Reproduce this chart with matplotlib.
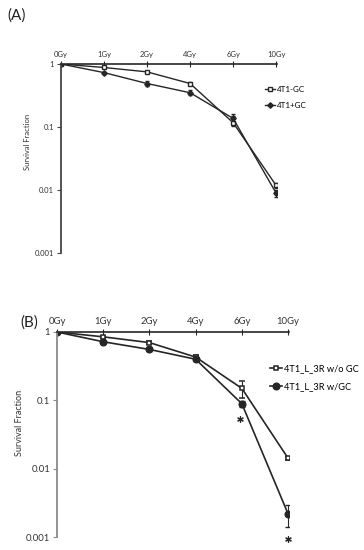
import matplotlib
matplotlib.use("Agg")
import matplotlib.pyplot as plt
from matplotlib.lines import Line2D
import numpy as np

plt.rcParams['font.family'] = ['Lato', 'DejaVu Sans']

doses = ["0Gy", "1Gy", "2Gy", "4Gy", "6Gy", "10Gy"]
yticks = [1, 0.1, 0.01, 0.001]
ytick_labels = ["1", "0.1", "0.01", "0.001"]

# Panel A
a_minus = [1.0, 0.88, 0.75, 0.49, 0.117, 0.0118]
a_minus_err_lo = [0.0, 0.03, 0.03, 0.02, 0.015, 0.001]
a_minus_err_hi = [0.0, 0.03, 0.03, 0.02, 0.045, 0.001]
a_plus = [1.0, 0.73, 0.49, 0.35, 0.137, 0.0089]
a_plus_err = [0.0, 0.03, 0.05, 0.03, 0.012, 0.0012]
a_labels = ["4T1-GC", "4T1+GC"]

# Panel B
b_wo = [1.0, 0.85, 0.70, 0.43, 0.15, 0.0143]
b_wo_err = [0.0, 0.03, 0.03, 0.03, 0.04, 0.0007]
b_w = [1.0, 0.72, 0.556, 0.40, 0.0895, 0.0022]
b_w_err = [0.0, 0.03, 0.03, 0.02, 0.008, 0.0008]
b_labels = ["4T1_L_3R w/o GC", "4T1_L_3R w/GC"]
sig_x = [4, 5]
sig_y = [0.054, 0.00094]

LC = "#262626"
fig = plt.figure(figsize=(3.64, 5.5), dpi=100)

def setup(ax, fs, spine_color):
    x = np.arange(len(doses))
    ax.set_yscale('log')
    ax.set_ylim(0.001, 1)
    ax.set_xlim(0, len(doses) - 1 + 0.02)
    ax.xaxis.tick_top()
    ax.set_xticks(x)
    ax.set_xticklabels(doses, fontsize=fs, color="#333333")
    ax.set_yticks(yticks)
    ax.set_yticklabels(ytick_labels, fontsize=fs, color="#333333")
    ax.yaxis.set_minor_locator(matplotlib.ticker.NullLocator())
    ax.tick_params(axis='x', direction='inout', length=4, width=0.8, pad=2, color=LC)
    ax.tick_params(axis='y', direction='out', length=3, width=0.8, pad=2, color=spine_color)
    for s in ['bottom', 'right']:
        ax.spines[s].set_visible(False)
    ax.spines['top'].set_color(LC)
    ax.spines['top'].set_linewidth(1.2)
    ax.spines['left'].set_color(spine_color)
    ax.spines['left'].set_linewidth(1.3)
    ax.set_facecolor('none')
    return x

# ---- Panel A
axA = fig.add_axes([61/364, 1-253/550, 216/364, 189/550])
x = setup(axA, 5.5, "#444444")
sA1 = dict(color=LC, lw=1.0, marker='s', ms=3, mfc='white', mec=LC, mew=1.0)
sA2 = dict(color=LC, lw=1.0, marker='D', ms=2.8, mfc=LC, mec=LC)
axA.errorbar(x, a_minus, yerr=[a_minus_err_lo, a_minus_err_hi], capsize=1.5, elinewidth=0.7, **sA1)
axA.errorbar(x, a_plus, yerr=a_plus_err, capsize=1.5, elinewidth=0.7, **sA2)
hA = [Line2D([], [], **sA1), Line2D([], [], **sA2)]
axA.legend(hA, a_labels, loc='upper left', bbox_to_anchor=(265/364, 1-86/550),
           bbox_transform=fig.transFigure, frameon=False, fontsize=5.8, handlelength=1.3,
           handletextpad=0.2, labelspacing=1.1, borderpad=0, borderaxespad=0)
fig.text(27/364, 1-142/550, "Survival Fraction", rotation=90, fontsize=5.5,
         ha='center', va='center', color="#333333")
fig.text(7/364, 1-16/550, "(A)", fontsize=11, ha='left', va='center', color="#222222")

# ---- Panel B
axB = fig.add_axes([57/364, 1-537.3/550, 232/364, 205.3/550])
x = setup(axB, 6.8, "#8a8a8a")
sB1 = dict(color=LC, lw=1.2, marker='s', ms=3.5, mfc='white', mec=LC, mew=1.1)
sB2 = dict(color=LC, lw=1.2, marker='o', ms=4.8, mfc=LC, mec=LC)
axB.errorbar(x, b_wo, yerr=b_wo_err, capsize=2, elinewidth=0.8, **sB1)
axB.errorbar(x, b_w, yerr=b_w_err, capsize=2, elinewidth=0.8, **sB2)
axB.scatter(np.array(sig_x) - np.array([0.05, 0.0]), sig_y, marker=(6, 2, 0), s=16,
            color=LC, linewidths=0.9, clip_on=False, zorder=5)
hB = [Line2D([], [], **sB1), Line2D([], [], **sB2)]
axB.legend(hB, b_labels, loc='upper left', bbox_to_anchor=(270/364, 1-364/550),
           bbox_transform=fig.transFigure, frameon=False, fontsize=6.7, handlelength=1.3,
           handletextpad=0.2, labelspacing=1.0, borderpad=0, borderaxespad=0)
fig.text(20/364, 1-423/550, "Survival Fraction", rotation=90, fontsize=6.5,
         ha='center', va='center', color="#333333")
fig.text(20/364, 1-323/550, "(B)", fontsize=11, ha='left', va='center', color="#222222")

fig.savefig("out.png", dpi=100)
